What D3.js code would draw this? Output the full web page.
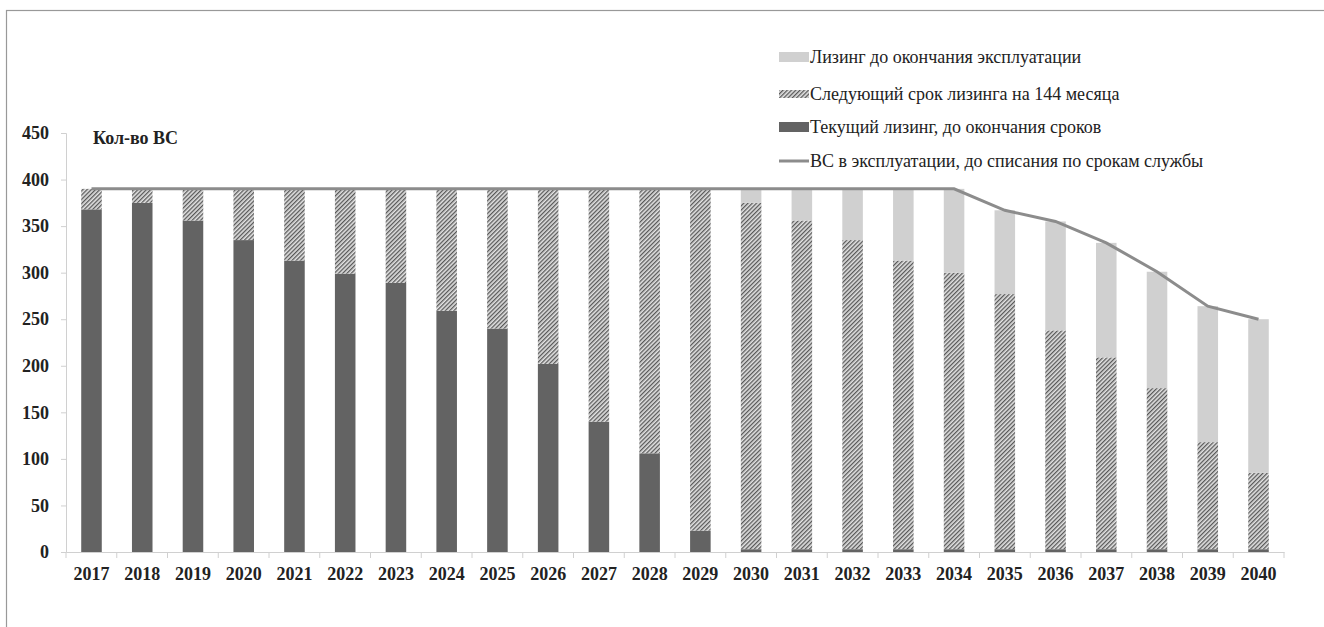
<!DOCTYPE html>
<html>
<head>
<meta charset="utf-8">
<script src="https://cdn.jsdelivr.net/npm/d3@7"></script>
<style>
  body { margin: 0; background: #fff; }
</style>
</head>
<body>
<div id="viz"></div>
<script>
// Data
var years = ["2017","2018","2019","2020","2021","2022","2023","2024","2025","2026","2027","2028",
             "2029","2030","2031","2032","2033","2034","2035","2036","2037","2038","2039","2040"];
var current = [368, 375, 356, 335, 313, 299, 289, 259, 240, 202, 140, 106, 23, 3, 3, 3, 3, 3, 3, 3, 3, 3, 3, 3];
var nextTerm = [22, 15, 34, 55, 77, 91, 101, 131, 150, 188, 250, 284, 367, 372, 353, 332, 310, 297, 274, 235, 206, 173, 115, 82];
var untilEnd = [0, 0, 0, 0, 0, 0, 0, 0, 0, 0, 0, 0, 0, 15, 34, 55, 77, 90, 90, 117, 123, 125, 146, 165];
var inService = [390, 390, 390, 390, 390, 390, 390, 390, 390, 390, 390, 390, 390, 390, 390, 390, 390, 390, 367, 355, 332, 301, 264, 250];
var yTicks = [0, 50, 100, 150, 200, 250, 300, 350, 400, 450];
var legendLabels = ["Лизинг до окончания эксплуатации", "Следующий срок лизинга на 144 месяца",
                    "Текущий лизинг, до окончания сроков", "ВС в эксплуатации, до списания по срокам службы"];

var width = 1324, height = 627;
var serif = "'Liberation Serif', 'Times New Roman', Tinos, 'DejaVu Serif', 'Noto Serif', FreeSerif, serif";

var svg = d3.select("#viz").append("svg").attr("width", width).attr("height", height);

// hatch pattern (thin dark diagonals on light grey)
var defs = svg.append("defs");
var pat = defs.append("pattern").attr("id", "hatch")
    .attr("patternUnits", "userSpaceOnUse").attr("width", 3).attr("height", 3)
    .attr("patternTransform", "rotate(45)");
pat.append("rect").attr("width", 3).attr("height", 3).attr("fill", "#e2e2e2");
pat.append("rect").attr("width", 1.3).attr("height", 3).attr("fill", "#585858");

// frame
svg.append("rect").attr("x", 6.5).attr("y", 10.5).attr("width", width + 10).attr("height", height + 10)
    .attr("fill", "none").attr("stroke", "#999").attr("stroke-width", 1.2);

var x = d3.scaleBand().domain(years).range([66, 1284]).paddingInner(0.595).paddingOuter(0.3);
var y = d3.scaleLinear().domain([0, 450]).range([552, 133]);

// stacked data
var rows = years.map(function(yr, i) {
    return {year: yr, current: current[i], next: nextTerm[i], end: untilEnd[i]};
});
var keys = ["current", "next", "end"];
var fills = {current: "#636363", next: "url(#hatch)", end: "#d0d0d0"};
var series = d3.stack().keys(keys)(rows);

var bars = svg.append("g");
series.forEach(function(s) {
    bars.selectAll(null).data(s).enter().append("rect")
        .attr("x", function(d) { return x(d.data.year); })
        .attr("width", x.bandwidth())
        .attr("y", function(d) { return y(d[1]); })
        .attr("height", function(d) { return Math.max(0, y(d[0]) - y(d[1])); })
        .attr("fill", fills[s.key]);
});

// axes
var yAxis = svg.append("g").attr("transform", "translate(66,0)")
    .call(d3.axisLeft(y).tickValues(yTicks).tickSize(5).tickPadding(12));
yAxis.select(".domain").attr("stroke", "#d0d0d0");
yAxis.selectAll(".tick line").attr("stroke", "#d0d0d0");
yAxis.selectAll("text").style("font-family", serif).attr("font-size", 18).attr("font-weight", "bold").attr("fill", "#222");

var xAxis = svg.append("g").attr("transform", "translate(0,552)")
    .call(d3.axisBottom(x).tickSize(0).tickPadding(15));
xAxis.select(".domain").attr("stroke", "#d0d0d0");
xAxis.selectAll("text").style("font-family", serif).attr("font-size", 18).attr("font-weight", "bold").attr("fill", "#222");
// Excel style ticks between categories
var bounds = d3.range(years.length + 1).map(function(i) { return 66 + i * (1284 - 66) / years.length; });
svg.append("g").selectAll("line").data(bounds).enter().append("line")
    .attr("x1", function(d) { return d; }).attr("x2", function(d) { return d; })
    .attr("y1", 552).attr("y2", 558).attr("stroke", "#d0d0d0");

// line
var line = d3.line()
    .x(function(d, i) { return x(years[i]) + x.bandwidth() / 2; })
    .y(function(d) { return y(d); });
svg.append("path").datum(inService).attr("d", line)
    .attr("fill", "none").attr("stroke", "#8c8c8c").attr("stroke-width", 3);

// title
svg.append("text").attr("x", 93).attr("y", 144).style("font-family", serif).attr("fill", "#222")
    .attr("font-size", 18).attr("font-weight", "bold").text("Кол-во ВС");

// legend
var lg = svg.append("g").attr("transform", "translate(779,0)");
var ly = [57, 94, 127, 161];
lg.append("rect").attr("x", 0).attr("y", ly[0] - 5).attr("width", 30).attr("height", 10).attr("fill", "#d0d0d0");
lg.append("rect").attr("x", 0).attr("y", ly[1] - 4).attr("width", 30).attr("height", 8).attr("fill", "url(#hatch)");
lg.append("rect").attr("x", 0).attr("y", ly[2] - 5).attr("width", 30).attr("height", 10).attr("fill", "#636363");
lg.append("line").attr("x1", 0).attr("x2", 30).attr("y1", ly[3]).attr("y2", ly[3])
    .attr("stroke", "#8c8c8c").attr("stroke-width", 3);
lg.selectAll("text.lbl").data(legendLabels).enter().append("text").attr("class", "lbl")
    .attr("x", 31).attr("y", function(d, i) { return ly[i]; })
    .style("font-family", serif).attr("fill", "#222")
    .attr("dy", "0.35em").attr("font-size", 18).text(function(d) { return d; });
</script>
</body>
</html>
